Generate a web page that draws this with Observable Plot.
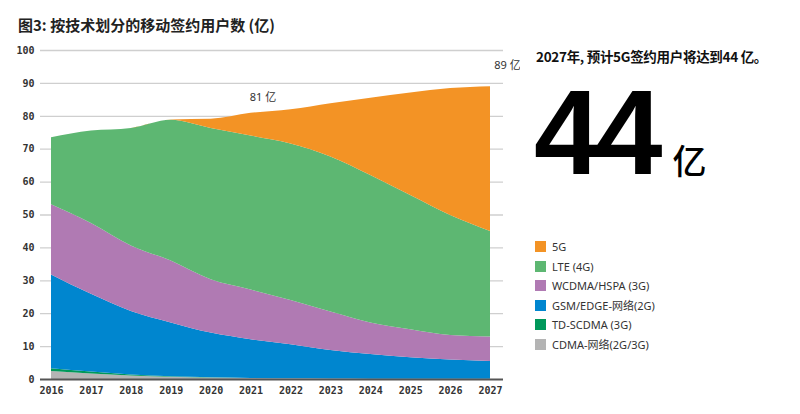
<!DOCTYPE html>
<html>
<head>
<meta charset="utf-8">
<script src="https://cdn.jsdelivr.net/npm/d3@7"></script>
<script src="https://cdn.jsdelivr.net/npm/@observablehq/plot@0.6"></script>
<style>
  body { margin: 0; background: #fff; }
  #wrap { position: relative; width: 800px; height: 414px; overflow: hidden; font-family: "Noto Sans", "Noto Sans CJK SC", sans-serif; }
  #title { position: absolute; left: 18px; top: 14px; font-family: "Noto Sans CJK SC", sans-serif; font-weight: 700; font-size: 15px; color: #222; white-space: nowrap; }
  #chart { position: absolute; left: 0; top: 38px; }
  #note { position: absolute; left: 536px; top: 46px; font-family: "Noto Sans CJK SC", sans-serif; font-weight: 700; font-size: 13.5px; color: #111; white-space: nowrap; letter-spacing: -0.3px; }
  #big { position: absolute; left: 534px; top: 72px; line-height: 1; white-space: nowrap; color: #000; }
  #big .num { font-family: "Liberation Sans", Arial, sans-serif; font-weight: 700; font-size: 120px; letter-spacing: -5px; }
  #big .unit { font-family: "Noto Sans CJK SC", sans-serif; font-weight: 500; font-size: 34px; margin-left: 15px; }
  #legend { position: absolute; left: 535px; top: 237px; font-size: 11px; color: #333; font-family: "Noto Sans", "Noto Sans CJK SC", sans-serif; }
  #legend .row { display: flex; align-items: center; height: 19.5px; }
  #legend .sw { width: 11px; height: 11px; margin-right: 6px; }
</style>
</head>
<body>
<div id="wrap">
  <div id="title">图3: 按技术划分的移动签约用户数 (亿)</div>
  <div id="chart"></div>
  <div id="note">2027年, 预计5G签约用户将达到44 亿。</div>
  <div id="big"><span class="num">44</span><span class="unit">亿</span></div>
  <div id="legend"></div>
</div>
<script>
// Years (x categories)
const years = [2016, 2017, 2018, 2019, 2020, 2021, 2022, 2023, 2024, 2025, 2026, 2027];

// Series values (亿), stacked bottom to top
const cdma   = [2.4, 1.7, 1.1, 0.7, 0.45, 0.3, 0.2, 0.15, 0.1, 0.1, 0.05, 0.05];
const tdscdma= [0.9, 0.6, 0.3, 0.1, 0.05, 0, 0, 0, 0, 0, 0, 0];
const gsm    = [28.5, 23.6, 19.3, 16.4, 13.6, 11.8, 10.4, 8.7, 7.5, 6.5, 5.9, 5.45];
const wcdma  = [21.3, 21.5, 19.9, 18.8, 16.2, 15.1, 13.4, 11.7, 9.6, 8.5, 7.4, 7.4];
const lte    = [20.4, 28.1, 35.7, 42.8, 46.0, 46.8, 47.6, 47.1, 44.8, 40.8, 36.5, 32.1];
const g5     = [0, 0, 0, 0.1, 2.8, 6.9, 10.4, 16.2, 23.5, 31.2, 38.6, 44];

// Series names (bottom -> top) and colours
const seriesNames = ["CDMA-网络(2G/3G)", "TD-SCDMA (3G)", "GSM/EDGE-网络(2G)", "WCDMA/HSPA (3G)", "LTE (4G)", "5G"];
const seriesColors = ["#b4b4b4", "#00985a", "#0086cf", "#b07ab3", "#5db772", "#f39325"];
const seriesValues = [cdma, tdscdma, gsm, wcdma, lte, g5];

// Y ticks
const yTicks = [0, 10, 20, 30, 40, 50, 60, 70, 80, 90, 100];

// Annotations
const labels = [
  {year: 2021, value: 81, text: "81 亿"},
  {year: 2027, value: 89, text: "89 亿"}
];

const data = [];
seriesNames.forEach((name, i) => {
  years.forEach((yr, j) => data.push({year: yr, tech: name, value: seriesValues[i][j]}));
});

const chart = Plot.plot({
  width: 520,
  height: 366,
  marginLeft: 40,
  marginRight: 17,
  marginTop: 12,
  marginBottom: 25,
  style: {fontFamily: "'DejaVu Sans Mono', monospace", fontSize: "10px", color: "#333", background: "transparent"},
  x: {domain: [2016, 2027], range: [51, 490]},
  y: {domain: [0, 100]},
  color: {domain: seriesNames, range: seriesColors},
  marks: [
    Plot.ruleY(yTicks.filter(d => d > 0), {stroke: "#cfcfcf", strokeWidth: 1.3}),
    Plot.areaY(data, {x: "year", y: "value", z: "tech", fill: "tech", order: seriesNames, curve: "monotone-x"}),
    Plot.ruleY([0], {stroke: "#555", strokeWidth: 2}),
    Plot.axisY({ticks: yTicks, tickSize: 0, tickPadding: 6, label: null, fontWeight: "bold"}),
    Plot.axisX({ticks: years, tickSize: 0, tickPadding: 7, tickFormat: d => String(d), label: null, fontWeight: "bold"}),
    Plot.text(labels.slice(0, 1), {x: "year", y: "value", text: "text", dx: 12, dy: -16, fontFamily: "'Noto Sans', 'Noto Sans CJK SC', sans-serif", fontSize: 11, fill: "#333"}),
    Plot.text(labels.slice(1), {x: "year", y: "value", text: "text", dx: 17, dy: -21, fontFamily: "'Noto Sans', 'Noto Sans CJK SC', sans-serif", fontSize: 11, fill: "#333"})
  ]
});
document.getElementById("chart").appendChild(chart);

// Legend (top -> bottom: reverse of stack order)
const legend = document.getElementById("legend");
for (let i = seriesNames.length - 1; i >= 0; i--) {
  const row = document.createElement("div");
  row.className = "row";
  const sw = document.createElement("div");
  sw.className = "sw";
  sw.style.background = seriesColors[i];
  const tx = document.createElement("span");
  tx.textContent = seriesNames[i];
  row.appendChild(sw);
  row.appendChild(tx);
  legend.appendChild(row);
}
</script>
</body>
</html>
